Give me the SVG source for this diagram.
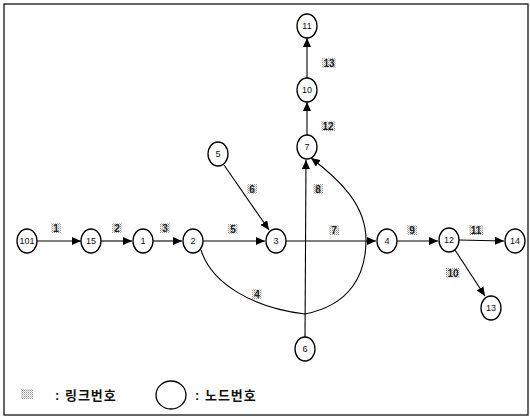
<svg xmlns="http://www.w3.org/2000/svg" width="530" height="419" viewBox="0 0 530 419">
<defs>
<pattern id="dots" width="2" height="2" patternUnits="userSpaceOnUse">
<rect x="0" y="0" width="1" height="1" fill="#9a9a9a"/>
<rect x="1" y="1" width="1" height="1" fill="#c8c8c8"/>
</pattern>
<marker id="arr" markerWidth="9" markerHeight="8" refX="9" refY="4" orient="auto" markerUnits="userSpaceOnUse">
<path d="M0,0 L9,4 L0,8 Z" fill="#000"/>
</marker>
<style>
.n ellipse{fill:#fff;stroke:#000;stroke-width:1.3}
.n text{font-family:"Liberation Sans",Arial,sans-serif;font-size:9px;fill:#111;text-anchor:middle;dominant-baseline:central}
.c path,.c line{fill:none;stroke:#000;stroke-width:1.1}
.lb rect{fill:url(#dots)}
.lb text{font-family:"Liberation Sans",Arial,sans-serif;font-size:10px;font-weight:bold;fill:#222;text-anchor:middle;dominant-baseline:central}
.lg{font-family:"Liberation Sans","Noto Sans CJK KR",sans-serif;font-size:13px;font-weight:bold;fill:#111;dominant-baseline:central;letter-spacing:1px}
</style>
</defs>
<rect x="0" y="0" width="530" height="419" fill="#fff"/>
<rect x="4" y="4" width="524" height="411" fill="none" stroke="#000" stroke-width="1.2"/>

<g class="c" id="connectors">
<line x1="37" y1="241" x2="81" y2="241" marker-end="url(#arr)"/>
<line x1="101" y1="241" x2="132" y2="241" marker-end="url(#arr)"/>
<line x1="153" y1="241" x2="182" y2="241" marker-end="url(#arr)"/>
<line x1="203" y1="241" x2="265" y2="241" marker-end="url(#arr)"/>
<line x1="286" y1="241" x2="376" y2="241" marker-end="url(#arr)"/>
<line x1="397" y1="241" x2="438" y2="241" marker-end="url(#arr)"/>
<line x1="459" y1="240" x2="504" y2="241" marker-end="url(#arr)"/>
<line x1="455" y1="250" x2="485" y2="296" marker-end="url(#arr)"/>
<line x1="224" y1="165" x2="269" y2="230" marker-end="url(#arr)"/>
<line x1="305" y1="337" x2="306" y2="160" marker-end="url(#arr)"/>
<line x1="307" y1="135" x2="307" y2="102" marker-end="url(#arr)"/>
<line x1="307" y1="78" x2="307" y2="38" marker-end="url(#arr)"/>
<path d="M201,250 C212,285 255,308 305,314 C350,305 366,275 366,240 C366,205 340,180 311,158" marker-end="url(#arr)"/>
</g>

<g class="lb" id="labels">
<g><rect x="51" y="223" width="10" height="10"/><text x="56" y="228">1</text></g>
<g><rect x="112" y="223" width="10" height="10"/><text x="117" y="228">2</text></g>
<g><rect x="160" y="223" width="10" height="10"/><text x="165" y="228">3</text></g>
<g><rect x="228" y="224" width="10" height="10"/><text x="233" y="229">5</text></g>
<g><rect x="247" y="184" width="10" height="10"/><text x="252" y="189">6</text></g>
<g><rect x="313" y="184" width="10" height="10"/><text x="318" y="189">8</text></g>
<g><rect x="329" y="225" width="10" height="10"/><text x="334" y="230">7</text></g>
<g><rect x="407" y="225" width="10" height="10"/><text x="412" y="230">9</text></g>
<g><rect x="469" y="225" width="14" height="10"/><text x="476" y="230">11</text></g>
<g><rect x="446" y="268" width="14" height="10"/><text x="453" y="273">10</text></g>
<g><rect x="252" y="289" width="10" height="10"/><text x="257" y="294">4</text></g>
<g><rect x="321" y="121" width="14" height="10"/><text x="328" y="126">12</text></g>
<g><rect x="322" y="58" width="14" height="10"/><text x="329" y="63">13</text></g>
</g>

<g class="n" id="node-101"><ellipse cx="27" cy="241" rx="10" ry="12"/><text x="27" y="241">101</text></g>
<g class="n" id="node-15"><ellipse cx="91" cy="241" rx="10" ry="12"/><text x="91" y="241">15</text></g>
<g class="n" id="node-1"><ellipse cx="143" cy="241" rx="10" ry="12"/><text x="143" y="241">1</text></g>
<g class="n" id="node-2"><ellipse cx="193" cy="241" rx="10" ry="12"/><text x="193" y="241">2</text></g>
<g class="n" id="node-3"><ellipse cx="276" cy="241" rx="10" ry="12"/><text x="276" y="241">3</text></g>
<g class="n" id="node-4"><ellipse cx="387" cy="241" rx="10" ry="12"/><text x="387" y="241">4</text></g>
<g class="n" id="node-12"><ellipse cx="449" cy="240" rx="10" ry="12"/><text x="449" y="240">12</text></g>
<g class="n" id="node-14"><ellipse cx="515" cy="241" rx="10" ry="12"/><text x="515" y="241">14</text></g>
<g class="n" id="node-13"><ellipse cx="491" cy="308" rx="10" ry="12"/><text x="491" y="308">13</text></g>
<g class="n" id="node-5"><ellipse cx="218" cy="154" rx="10" ry="12"/><text x="218" y="154">5</text></g>
<g class="n" id="node-7"><ellipse cx="307" cy="147" rx="10" ry="12"/><text x="307" y="147">7</text></g>
<g class="n" id="node-10"><ellipse cx="307" cy="90" rx="10" ry="12"/><text x="307" y="90">10</text></g>
<g class="n" id="node-11"><ellipse cx="307" cy="26" rx="10" ry="12"/><text x="307" y="26">11</text></g>
<g class="n" id="node-6"><ellipse cx="305" cy="349" rx="10" ry="12"/><text x="305" y="349">6</text></g>

<g id="legend">
<rect x="21" y="389" width="12" height="10" fill="url(#dots)"/>
<text class="lg" x="55" y="395">: 링크번호</text>
<ellipse cx="171" cy="395" rx="15" ry="14" fill="#fff" stroke="#000" stroke-width="1.3"/>
<text class="lg" x="195" y="395">: 노드번호</text>
</g>
</svg>
